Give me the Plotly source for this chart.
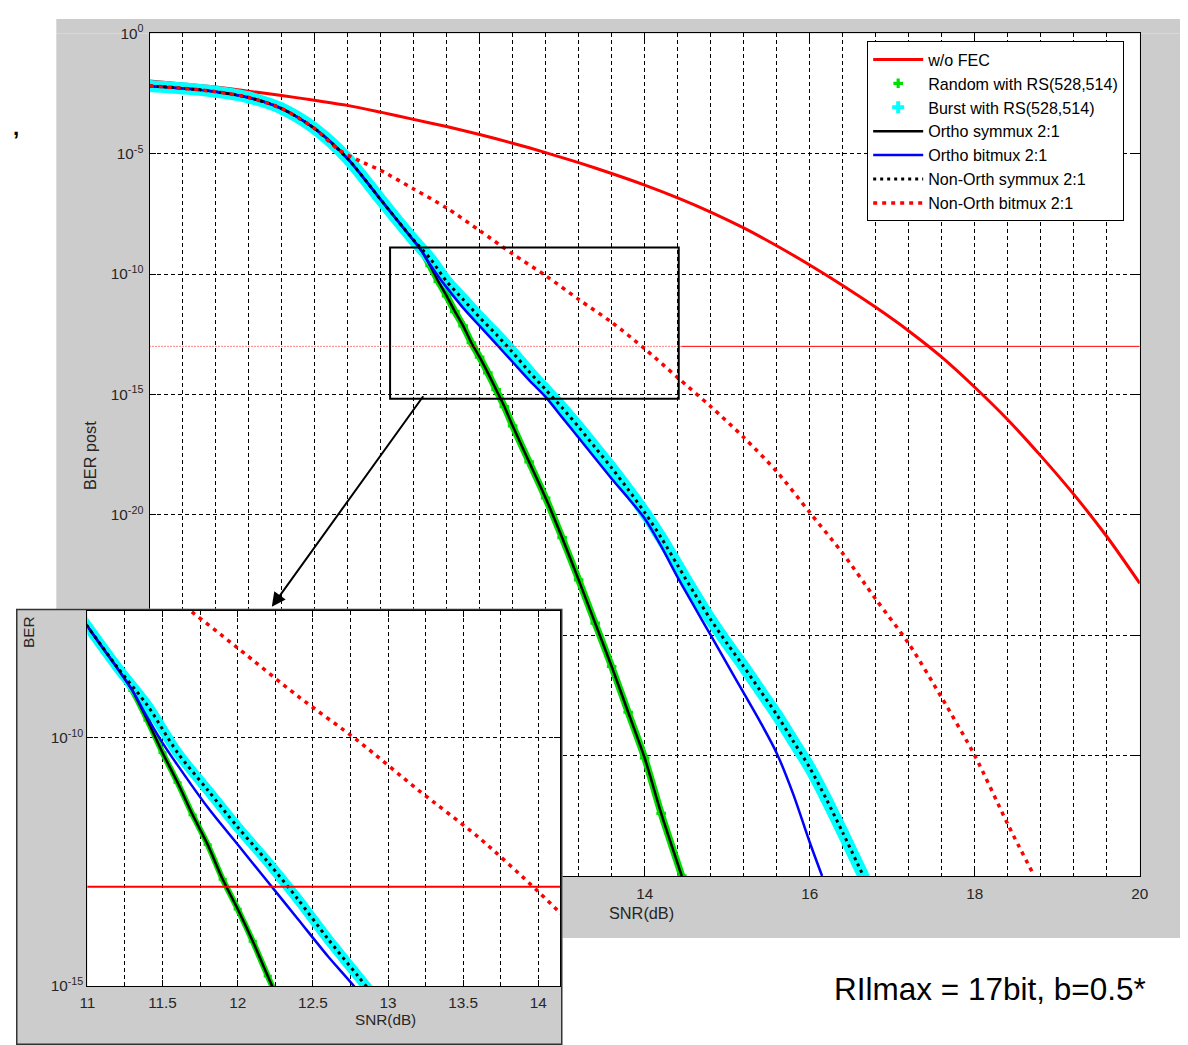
import plotly.graph_objects as go

W, H = 1188, 1045
# the photographed page shows up slightly scaled and shifted; reference pixel positions
# are mapped back through that so they land in place
SX, SY = 0.9834, 0.9812
AX, AY = 16.8, 18.6
FS = 1 / SX

# ---------------- data (SNR in dB, BER given as log10) ----------------
snr_wofec = [8.0, 8.4, 8.8, 9.2, 9.6, 10.0, 10.4, 10.8, 11.2, 11.6, 12.0, 12.4, 12.8, 13.2,
             13.6, 14.0, 14.4, 14.8, 15.2, 15.6, 16.0, 16.4, 16.8, 17.2, 17.6, 18.0, 18.4,
             18.8, 19.2, 19.6, 20.0]
logber_wofec = [-1.98, -2.10, -2.23, -2.40, -2.58, -2.78, -2.99, -3.27, -3.57, -3.87, -4.20,
                -4.56, -4.95, -5.37, -5.82, -6.30, -6.83, -7.42, -8.08, -8.82, -9.62, -10.47,
                -11.38, -12.36, -13.45, -14.70, -16.05, -17.55, -19.15, -20.90, -22.85]

snr_ortho_sym = [8.0, 8.4, 8.8, 9.2, 9.6, 10.0, 10.4, 10.8, 11.0, 11.1, 11.2, 11.3, 11.4, 11.5,
                 11.6, 11.7, 11.8, 11.9, 12.0, 12.1, 12.2, 12.3, 12.4, 12.6, 12.8, 13.0, 13.2,
                 13.4, 13.6, 13.8, 14.0, 14.2, 14.45]
logber_ortho_sym = [-2.18, -2.28, -2.42, -2.66, -3.12, -3.95, -5.2, -6.9, -7.75, -8.18, -8.6,
                    -9.05, -9.65, -10.3, -10.9, -11.55, -12.15, -12.85, -13.45, -14.1, -14.8,
                    -15.5, -16.3, -17.8, -19.3, -20.95, -22.7, -24.5, -26.3, -28.2, -30.1,
                    -32.4, -35.0]

snr_ortho_bit = [8.0, 8.4, 8.8, 9.2, 9.6, 10.0, 10.4, 10.8, 11.0, 11.2, 11.3, 11.4, 11.5, 11.6,
                 11.8, 12.0, 12.2, 12.4, 12.6, 12.8, 13.0, 13.2, 13.4, 13.6, 13.8, 14.0, 14.2,
                 14.4, 14.6, 14.8, 15.0, 15.2, 15.4, 15.6, 15.8, 16.0, 16.15]
logber_ortho_bit = [-2.18, -2.28, -2.42, -2.66, -3.12, -3.95, -5.2, -6.9, -7.75, -8.6, -9.05,
                    -9.6, -10.1, -10.55, -11.4, -12.15, -12.9, -13.65, -14.4, -15.1, -15.95,
                    -16.8, -17.65, -18.5, -19.3, -20.15, -21.3, -22.6, -23.8, -25.0, -26.2,
                    -27.4, -28.6, -29.9, -31.6, -33.6, -35.0]

snr_nonortho_sym = [8.0, 8.4, 8.8, 9.2, 9.6, 10.0, 10.4, 10.8, 11.0, 11.2, 11.4, 11.6, 11.8,
                    12.0, 12.2, 12.4, 12.6, 12.8, 13.0, 13.2, 13.4, 13.6, 13.8, 14.0, 14.2,
                    14.4, 14.6, 14.8, 15.0, 15.2, 15.4, 15.6, 15.8, 16.0, 16.2, 16.4, 16.65]
logber_nonortho_sym = [-2.18, -2.28, -2.42, -2.66, -3.12, -3.95, -5.2, -6.9, -7.75, -8.58,
                       -9.35, -10.3, -11.05, -11.8, -12.5, -13.25, -14.05, -14.8, -15.55,
                       -16.35, -17.2, -18.05, -18.95, -19.9, -20.95, -22.1, -23.25, -24.35,
                       -25.35, -26.3, -27.3, -28.3, -29.4, -30.5, -31.8, -33.2, -35.0]

snr_nonortho_bit = [8.0, 8.4, 8.8, 9.2, 9.6, 10.0, 10.3, 10.6, 10.8, 11.2, 11.6, 12.0, 12.4,
                    12.8, 13.2, 13.6, 14.0, 14.4, 14.8, 15.2, 15.6, 16.0, 16.4, 16.8, 17.2,
                    17.6, 18.0, 18.4, 18.72]
logber_nonortho_bit = [-2.18, -2.28, -2.42, -2.66, -3.12, -3.95, -4.85, -5.38, -5.69, -6.46,
                       -7.25, -8.19, -9.16, -10.06, -11.05, -12.0, -13.1, -14.3, -15.5,
                       -16.78, -18.2, -19.9, -21.6, -23.5, -25.35, -27.6, -30.0, -32.85, -35.0]

# simulated points (coincide with the analytic curves)
snr_random = snr_ortho_sym
logber_random = logber_ortho_sym
snr_burst = snr_nonortho_sym
logber_burst = logber_nonortho_sym

ber_threshold = 1e-13
threshold_snr_dotted = [8.0, 14.45]
threshold_snr_solid = [14.45, 20.0]
threshold_snr_inset = [8.0, 20.0]

main_ytick_exp = [0, -5, -10, -15, -20, -25, -30, -35]
inset_ytick_exp = [-10, -15]

legend_names = ["w/o FEC", "Random with RS(528,514)", "Burst with RS(528,514)",
                "Ortho symmux 2:1", "Ortho bitmux 2:1", "Non-Orth symmux 2:1",
                "Non-Orth bitmux 2:1"]


def lin(v):
    return [10 ** e for e in v]


def px(x):
    v = ((x - AX) / SX) / W
    return min(max(v, 0.0), 1.0)


def py(y):
    v = 1 - ((y - AY) / SY) / H
    return min(max(v, 0.0), 1.0)


def fs(size):
    return round(size * FS, 1)


RED = "#ff0000"
GREEN = "#00e000"
CYAN = "#00ffff"
BLUE = "#0000ff"
BLACK = "#000000"
GRAY = "#cccccc"
FONT = "Arial, Liberation Sans, sans-serif"

fig = go.Figure()


def add_series(xa, ya, main):
    leg = main
    s = 1.0 if main else 0.85
    sp = dict(shape="spline", smoothing=0.8)
    fig.add_trace(go.Scatter(x=snr_wofec, y=lin(logber_wofec), mode="lines", name=legend_names[0],
                             line=dict(color=RED, width=3, **sp), showlegend=leg,
                             xaxis=xa, yaxis=ya, hoverinfo="skip"))
    fig.add_trace(go.Scatter(x=snr_random, y=lin(logber_random), mode="lines",
                             line=dict(color=GREEN, width=7 * s, **sp), showlegend=False,
                             xaxis=xa, yaxis=ya, hoverinfo="skip"))
    fig.add_trace(go.Scatter(x=snr_random, y=lin(logber_random), mode="markers", name=legend_names[1],
                             marker=dict(symbol="cross", color=GREEN, size=8 * s), showlegend=leg,
                             xaxis=xa, yaxis=ya, hoverinfo="skip"))
    fig.add_trace(go.Scatter(x=snr_burst, y=lin(logber_burst), mode="lines",
                             line=dict(color=CYAN, width=12 * s, **sp), showlegend=False,
                             xaxis=xa, yaxis=ya, hoverinfo="skip"))
    fig.add_trace(go.Scatter(x=snr_burst, y=lin(logber_burst), mode="markers", name=legend_names[2],
                             marker=dict(symbol="cross", color=CYAN, size=10 * s), showlegend=leg,
                             xaxis=xa, yaxis=ya, hoverinfo="skip"))
    fig.add_trace(go.Scatter(x=snr_ortho_sym, y=lin(logber_ortho_sym), mode="lines", name=legend_names[3],
                             line=dict(color=BLACK, width=2.5, **sp), showlegend=leg,
                             xaxis=xa, yaxis=ya, hoverinfo="skip"))
    fig.add_trace(go.Scatter(x=snr_ortho_bit, y=lin(logber_ortho_bit), mode="lines", name=legend_names[4],
                             line=dict(color=BLUE, width=2.5, **sp), showlegend=leg,
                             xaxis=xa, yaxis=ya, hoverinfo="skip"))
    fig.add_trace(go.Scatter(x=snr_nonortho_sym, y=lin(logber_nonortho_sym), mode="lines",
                             name=legend_names[5],
                             line=dict(color=BLACK, width=3, dash="3px,4px", **sp), showlegend=leg,
                             xaxis=xa, yaxis=ya, hoverinfo="skip"))
    fig.add_trace(go.Scatter(x=snr_nonortho_bit, y=lin(logber_nonortho_bit), mode="lines",
                             name=legend_names[6],
                             line=dict(color=RED, width=3.5, dash="4px,5px", **sp), showlegend=leg,
                             xaxis=xa, yaxis=ya, hoverinfo="skip"))
    if main:
        fig.add_trace(go.Scatter(x=threshold_snr_dotted, y=[ber_threshold] * 2, mode="lines",
                                 line=dict(color=RED, width=1, dash="1px,2px"), showlegend=False,
                                 xaxis=xa, yaxis=ya, hoverinfo="skip"))
        fig.add_trace(go.Scatter(x=threshold_snr_solid, y=[ber_threshold] * 2, mode="lines",
                                 line=dict(color=RED, width=1), showlegend=False,
                                 xaxis=xa, yaxis=ya, hoverinfo="skip"))
    else:
        fig.add_trace(go.Scatter(x=threshold_snr_inset, y=[ber_threshold] * 2, mode="lines",
                                 line=dict(color=RED, width=2), showlegend=False,
                                 xaxis=xa, yaxis=ya, hoverinfo="skip"))


# main chart
add_series("x", "y", True)

# gray panel behind the inset (its own invisible subplot, drawn between main and inset)
panel_x = [0, 1, 1, 0, 0]
panel_y = [0, 0, 1, 1, 0]
fig.add_trace(go.Scatter(x=panel_x, y=panel_y, mode="lines", fill="toself", fillcolor=GRAY,
                         line=dict(color="#333333", width=3), showlegend=False,
                         xaxis="x2", yaxis="y2", hoverinfo="skip"))

# inset (zoomed) chart
add_series("x3", "y3", False)

grid_dash = "4px,3px"
axis_common = dict(showline=True, linecolor="black", linewidth=1.2, mirror="ticks",
                   ticks="inside", ticklen=6, tickcolor="black", tickwidth=1,
                   showgrid=True, gridcolor="black", gridwidth=1, griddash=grid_dash,
                   zeroline=False, tickfont=dict(size=fs(15), color="#262626", family=FONT))

fig.update_layout(
    width=W, height=H, autosize=False,
    margin=dict(l=0, r=0, t=0, b=0, pad=0),
    paper_bgcolor="white", plot_bgcolor="white",
    font=dict(family=FONT, size=14, color="#262626"),
    showlegend=True,
    legend=dict(x=px(866), y=py(41), xanchor="left", yanchor="top",
                bgcolor="white", bordercolor="black", borderwidth=1, itemwidth=50,
                font=dict(size=fs(15.8), color="black", family=FONT)),
    xaxis=dict(domain=[px(150), px(1138)], range=[8, 20], dtick=2, tick0=0,
               minor=dict(dtick=0.4, tick0=0, showgrid=True, gridcolor="black",
                          griddash=grid_dash, gridwidth=1, ticks=""),
               ticklabelstandoff=4, anchor="y", **axis_common),
    yaxis=dict(domain=[py(875), py(33)], type="log", range=[-35, 0],
               tickvals=[10 ** e for e in main_ytick_exp],
               ticktext=["10<sup>%d</sup>" % e for e in main_ytick_exp],
               ticklabelstandoff=2, anchor="x", **axis_common),
    xaxis2=dict(domain=[px(10), px(562)], range=[0, 1], visible=False, anchor="y2",
                fixedrange=True),
    yaxis2=dict(domain=[0, py(608)], range=[0, 1], visible=False, anchor="x2",
                fixedrange=True),
    xaxis3=dict(domain=[px(88), px(560)], range=[11, 14.147], dtick=0.5, tick0=0,
                minor=dict(dtick=0.25, tick0=0, showgrid=True, gridcolor="black",
                           griddash=grid_dash, gridwidth=1, ticks=""),
                ticklabelstandoff=3, anchor="y3", **axis_common),
    yaxis3=dict(domain=[py(985), py(610)], type="log", range=[-15, -7.44],
                tickvals=[10 ** e for e in inset_ytick_exp],
                ticktext=["10<sup>%d</sup>" % e for e in inset_ytick_exp],
                anchor="x3", **axis_common),
)

# gray figure frame around the main axes
frame_rects = [(57, 5, 1188, 33), (57, 875, 1188, 937), (57, 33, 150, 875), (1138, 33, 1188, 875)]
for (x0, y0, x1, y1) in frame_rects:
    fig.add_shape(type="rect", xref="paper", yref="paper", x0=px(x0), x1=px(x1),
                  y0=py(y1), y1=py(y0), fillcolor=GRAY, line=dict(width=0), layer="below")

# zoom box on the main chart
fig.add_shape(type="rect", xref="paper", yref="paper", x0=px(390), x1=px(678),
              y0=py(398), y1=py(247), line=dict(color="black", width=2), layer="above")

annotations = [
    dict(text="<b>,</b>", x=px(13), y=py(127), font=dict(size=fs(22), color="black")),
    dict(text="RIlmax = 17bit, b=0.5*", x=px(989), y=py(988), font=dict(size=fs(31), color="black")),
    dict(text="SNR(dB)", x=px(641), y=py(912), font=dict(size=fs(16), color="#262626")),
    dict(text="BER post", x=px(90), y=py(455), textangle=-90, font=dict(size=fs(16), color="#262626")),
    dict(text="BER", x=px(30), y=py(632), textangle=-90, font=dict(size=fs(15), color="#262626")),
    dict(text="SNR(dB)", x=px(385), y=py(1018), font=dict(size=fs(15), color="#262626")),
]
for a in annotations:
    fig.add_annotation(xref="paper", yref="paper", showarrow=False, xanchor="center",
                       yanchor="middle", font_family=FONT, **a)

fig.add_annotation(xref="paper", yref="paper", x=px(272), y=py(606),
                   ax=150 / SX, ay=-208 / SY,
                   text="", showarrow=True, arrowhead=2, arrowsize=1.4, arrowwidth=2,
                   arrowcolor="black")

fig.write_html("out.html", config={"displayModeBar": False})
